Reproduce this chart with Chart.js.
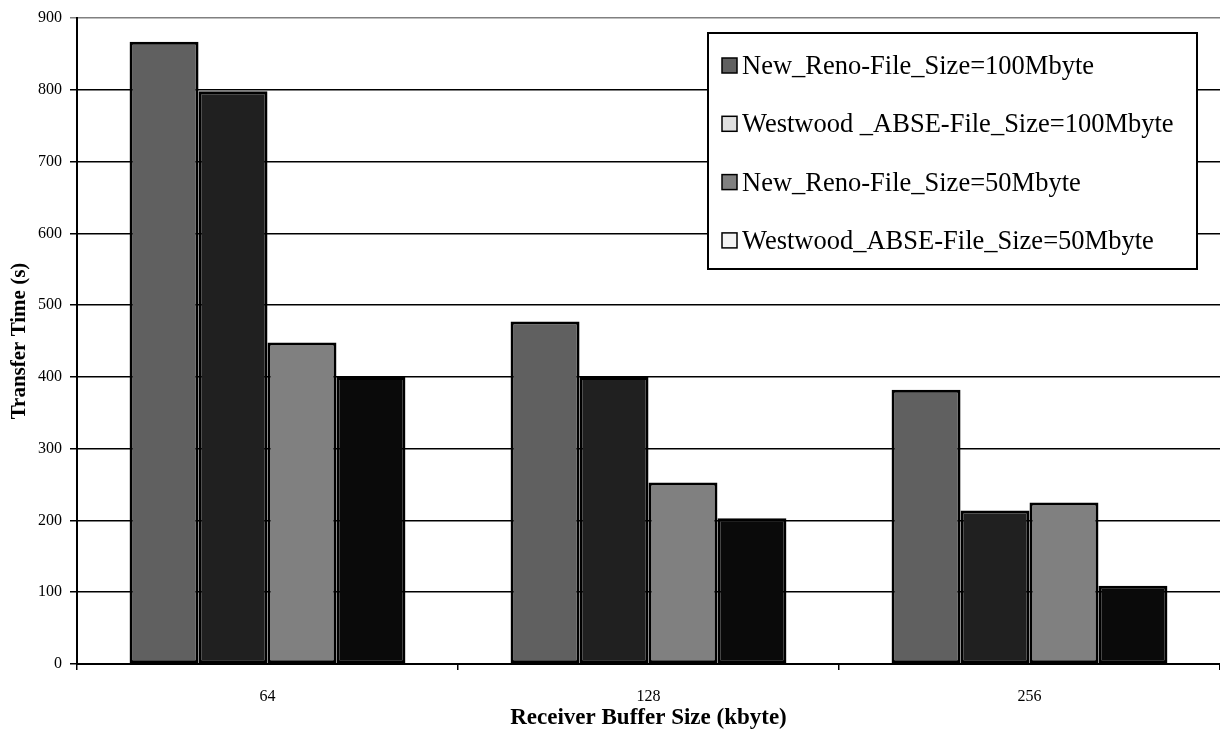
<!DOCTYPE html>
<html>
<head>
<meta charset="utf-8">
<script src="https://cdn.jsdelivr.net/npm/chart.js@4.4.1/dist/chart.umd.min.js"></script>
<style>
  html, body { margin: 0; padding: 0; background: #ffffff; }
  #wrap { width: 1220px; height: 735px; }
</style>
</head>
<body>
<div id="wrap"><canvas id="c" width="1220" height="735"></canvas></div>
<script>
// Receiver buffer sizes (kbyte)
const categories = ['64', '128', '256'];

// Transfer time (s) per buffer size
const newReno100 = [867, 477, 382];
const westwood100 = [798, 400, 214];
const newReno50 = [448, 253, 225];
const westwood50 = [400, 203, 109];

const seriesLabels = [
  'New_Reno-File_Size=100Mbyte',
  'Westwood _ABSE-File_Size=100Mbyte',
  'New_Reno-File_Size=50Mbyte',
  'Westwood_ABSE-File_Size=50Mbyte'
];

const yTicks = [0, 100, 200, 300, 400, 500, 600, 700, 800, 900];

const barFills = ['#606060', '#202020', '#808080', '#0a0a0a'];
const keyFills = ['#606060', '#e0e0e0', '#808080', '#f4f4f4'];

const SERIF = "'Liberation Serif', 'Times New Roman', serif";

// Boxed key drawn inside the plot area, upper right
const boxedKey = {
  id: 'boxedKey',
  afterDraw(chart) {
    const ctx = chart.ctx;
    const x = 708, y = 33, w = 489, h = 236;
    ctx.save();
    ctx.fillStyle = '#ffffff';
    ctx.fillRect(x, y, w, h);
    ctx.lineWidth = 2;
    ctx.strokeStyle = '#000000';
    ctx.strokeRect(x, y, w, h);
    ctx.font = '26.5px ' + SERIF;
    ctx.textBaseline = 'middle';
    ctx.textAlign = 'left';
    chart.data.datasets.forEach((ds, i) => {
      const cy = y + 33 + i * 58.3;
      ctx.fillStyle = keyFills[i];
      ctx.fillRect(x + 14, cy - 8, 15, 15);
      ctx.lineWidth = 1.5;
      ctx.strokeStyle = '#000000';
      ctx.strokeRect(x + 14, cy - 8, 15, 15);
      ctx.fillStyle = '#000000';
      ctx.fillText(ds.label, x + 34, cy + 1);
    });
    ctx.restore();
  }
};

const values = [newReno100, westwood100, newReno50, westwood50];

new Chart(document.getElementById('c'), {
  type: 'bar',
  data: {
    labels: categories,
    datasets: values.map((v, i) => ({
      label: seriesLabels[i],
      data: v,
      backgroundColor: barFills[i],
      borderColor: '#000000',
      borderWidth: 3,
      borderSkipped: false,
      inflateAmount: 0,
      categoryPercentage: 0.724,
      barPercentage: 1.0
    }))
  },
  options: {
    responsive: false,
    animation: false,
    devicePixelRatio: 1,
    layout: { padding: { top: 18, right: 0, left: 0, bottom: 0 } },
    plugins: {
      legend: { display: false },
      tooltip: { enabled: false }
    },
    scales: {
      x: {
        type: 'category',
        offset: true,
        afterFit(scale) { scale.height = 71; },
        grid: {
          offset: true,
          drawOnChartArea: false,
          drawTicks: true,
          tickLength: 6,
          color: '#000000',
          lineWidth: 1.5
        },
        border: { display: true, color: '#000000', width: 2 },
        ticks: {
          color: '#000000',
          padding: 17,
          font: { family: SERIF, size: 16 },
          maxRotation: 0
        },
        title: {
          display: true,
          text: 'Receiver Buffer Size (kbyte)',
          color: '#000000',
          font: { family: SERIF, size: 23, weight: 'bold' },
          padding: { top: 0, bottom: 3 }
        }
      },
      y: {
        min: 0,
        max: 900,
        afterFit(scale) { scale.width = 77; },
        afterBuildTicks(scale) { scale.ticks = yTicks.map(v => ({ value: v })); },
        grid: {
          color: ctx => (ctx.tick && ctx.tick.value === 900 ? '#808080' : '#000000'),
          lineWidth: 1.5,
          drawTicks: true,
          tickLength: 7
        },
        border: { display: true, color: '#000000', width: 2 },
        ticks: {
          color: '#000000',
          padding: 8,
          font: { family: SERIF, size: 16 }
        },
        title: {
          display: true,
          text: 'Transfer Time (s)',
          color: '#000000',
          font: { family: SERIF, size: 21, weight: 'bold' },
          padding: { top: 7, bottom: 0 }
        }
      }
    }
  },
  plugins: [boxedKey]
});
</script>
</body>
</html>
